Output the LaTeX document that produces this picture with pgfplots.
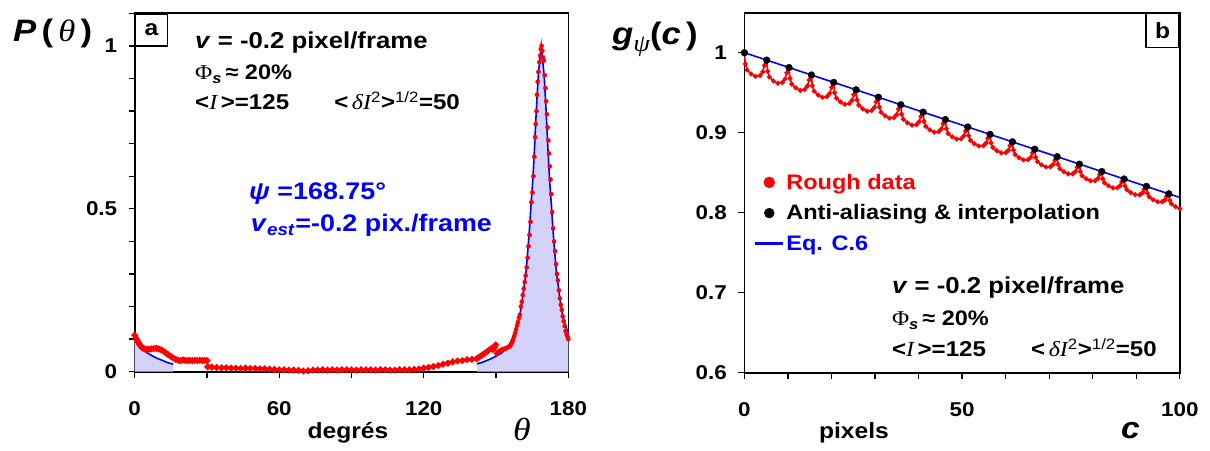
\documentclass[border=0pt]{standalone}
\usepackage{fontspec}
\setmainfont{Liberation Sans}[FakeStretch=1.12]
\newfontfamily\serif{Liberation Serif}[FakeStretch=1.12]
\usepackage{pgfplots}
\pgfplotsset{compat=1.18}
\definecolor{lav}{RGB}{210,210,250}
\newcommand{\fs}[1]{\fontsize{#1}{#1}\selectfont}
\pgfplotsset{
  myaxis/.style={
    scale only axis,
    axis line style={line width=1.6pt},
    every tick/.style={line width=1.3pt, black},
    major tick length=6pt, minor tick length=6pt,
    tick align=outside, tick pos=left,
    tick label style={font=\bfseries\fs{20}},
    /pgf/number format/assume math mode=true,
    xticklabel style={yshift=-20pt},
    yticklabel style={xshift=-8pt},
    clip=false,
  },
  mylegmark/.style={legend image code/.code={\draw[mark repeat=1,##1] plot coordinates {(14pt,0pt)};}},
  myleglin/.style={legend image code/.code={\draw[##1, draw=blue, line width=2.2pt] (0pt,0pt) -- (28pt,0pt);}},
}
\tikzset{lab/.style={inner sep=0pt}}
\begin{document}
\begin{tikzpicture}
\path[use as bounding box] (0pt,0pt) rectangle (1210pt,450pt);
% ---------------- panel a
\begin{axis}[myaxis, at={(134.7pt,78.3pt)}, anchor=south west,
  width=433.6pt, height=358.4pt,
  xmin=0, xmax=180, ymin=0, ymax=1.1,
  xtick={0,60,120,180}, xticklabels={0,60,120,180}, minor xtick={30,90,150},
  ytick={0,0.5,1}, yticklabels={0,0.5,1},
  minor ytick={0.1,0.2,0.3,0.4,0.6,0.7,0.8,0.9,1.1}]
% fitted curve (blue) with fill
\addplot[draw=none, fill=lav] coordinates {
(0,0.118) (1,0.097) (2,0.083) (3,0.073) (4,0.065) (5,0.059) (6,0.054) (7,0.050) (8,0.046) (9,0.042) (10,0.039) (11,0.036) (12,0.033) (13,0.030) (14,0.027) (15,0.025) (16,0.023)} \closedcycle;
\addplot[draw=none, fill=lav] coordinates {
(142,0.024) (143,0.026) (144,0.028) (145,0.031) (146,0.034) (147,0.037) (148,0.040) (149,0.044) (150,0.048) (151,0.052) (152,0.056) (153,0.062) (154,0.069) (155,0.078) (156,0.090) (157,0.107) (158,0.128) (158.5,0.138) (159,0.150) (159.5,0.163) (160,0.18) (160.5,0.20) (161,0.225) (161.5,0.255) (162,0.28) (162.5,0.31) (163,0.355) (163.5,0.40) (164,0.45) (164.5,0.51) (165,0.56) (165.5,0.62) (166,0.69) (166.5,0.77) (167,0.84) (167.5,0.905) (168,0.945) (168.75,1.0) (169.5,0.945) (170,0.905) (170.5,0.84) (171,0.77) (171.5,0.69) (172,0.62) (172.5,0.56) (173,0.51) (173.5,0.45) (174,0.40) (174.5,0.355) (175,0.31) (175.5,0.28) (176,0.255) (176.5,0.225) (177,0.20) (177.5,0.18) (178,0.163) (178.5,0.150) (179,0.138) (179.5,0.128) (180,0.118)} \closedcycle;
\addplot[blue, line width=1.6pt] coordinates {
(0,0.118) (1,0.097) (2,0.083) (3,0.073) (4,0.065) (5,0.059) (6,0.054) (7,0.050) (8,0.046) (9,0.042) (10,0.039) (11,0.036) (12,0.033) (13,0.030) (14,0.027) (15,0.025) (16,0.023)};
\addplot[blue, line width=1.6pt] coordinates {
(142,0.024) (143,0.026) (144,0.028) (145,0.031) (146,0.034) (147,0.037) (148,0.040) (149,0.044) (150,0.048) (151,0.052) (152,0.056) (153,0.062) (154,0.069) (155,0.078) (156,0.090) (157,0.107) (158,0.128) (158.5,0.138) (159,0.150) (159.5,0.163) (160,0.18) (160.5,0.20) (161,0.225) (161.5,0.255) (162,0.28) (162.5,0.31) (163,0.355) (163.5,0.40) (164,0.45) (164.5,0.51) (165,0.56) (165.5,0.62) (166,0.69) (166.5,0.77) (167,0.84) (167.5,0.905) (168,0.945) (168.75,1.0) (169.5,0.945) (170,0.905) (170.5,0.84) (171,0.77) (171.5,0.69) (172,0.62) (172.5,0.56) (173,0.51) (173.5,0.45) (174,0.40) (174.5,0.355) (175,0.31) (175.5,0.28) (176,0.255) (176.5,0.225) (177,0.20) (177.5,0.18) (178,0.163) (178.5,0.150) (179,0.138) (179.5,0.128) (180,0.118)};
% measured (red)
\addplot[red, line width=2.8pt, mark=*, mark size=1.7pt] coordinates {
(0,0.112) (0.5,0.103) (1,0.097) (1.5,0.090) (2,0.084) (2.5,0.079) (3,0.075) (3.5,0.072) (4,0.070) (5,0.069) (6,0.069) (7,0.070) (8,0.071) (9,0.072) (10,0.070) (11,0.067) (12,0.063) (13,0.057) (14,0.052) (15,0.047) (16,0.042) (17,0.038) (18,0.035) (19,0.034) (20,0.036) (21,0.035) (22,0.034) (23,0.035) (24,0.034) (25,0.035) (26,0.034) (27,0.035) (28,0.034) (29,0.035) (30,0.034)};
\addplot[red, line width=2.8pt, mark=*, mark size=1.7pt] coordinates {
(30.3,0.015) (32,0.014) (34,0.013) (36,0.012) (38,0.012) (40,0.011) (42,0.011) (44,0.010) (46,0.011) (48,0.010) (50,0.010) (52,0.009) (54,0.009) (56,0.008) (58,0.007) (60,0.006) (62,0.006) (64,0.005) (66,0.005) (68,0.004) (70,0.002) (72,0.003) (74,0.005) (76,0.005) (78,0.006) (80,0.005) (82,0.006) (84,0.005) (86,0.006) (88,0.006) (90,0.006) (92,0.005) (94,0.006) (96,0.006) (98,0.006) (100,0.005) (102,0.006) (104,0.006) (106,0.005) (108,0.005) (110,0.006) (112,0.006) (114,0.006) (116,0.007) (118,0.008) (120,0.011) (122,0.013) (124,0.016) (126,0.019) (128,0.023) (130,0.026) (132,0.030) (134,0.033) (136,0.034) (138,0.037) (140,0.038) (142,0.040) (143,0.045) (144,0.050) (145,0.055) (146,0.060) (147,0.066) (148,0.071) (148.7,0.068) (149.3,0.075) (149.8,0.082)};
\addplot[red, only marks, mark=*, mark size=2.1pt] coordinates {
(150.2,0.056) (150.7,0.060) (151.2,0.063) (151.7,0.065) (152.2,0.067) (152.7,0.069) (153.2,0.070) (153.7,0.071) (154.2,0.072) (154.7,0.074) (155.2,0.076) (155.7,0.078) (156.2,0.083) (156.7,0.090) (157.1,0.098) (157.5,0.108) (157.9,0.118) (158.3,0.130) (158.7,0.142) (159.1,0.152) (159.5,0.165) (159.9,0.175) (160.3,0.20) (160.7,0.215) (161.1,0.235) (161.5,0.255) (161.9,0.275) (162.3,0.295) (162.7,0.32) (163.1,0.35) (163.5,0.385) (163.9,0.42) (164.3,0.46) (164.7,0.52) (165.1,0.55) (165.5,0.60) (165.9,0.66) (166.2,0.72) (166.5,0.76) (166.8,0.80) (167.0,0.85) (167.3,0.89) (167.6,0.92) (168.0,0.95) (168.3,0.97) (168.6,0.99) (168.9,1.0) (169.2,0.985) (169.5,0.965) (169.8,0.955) (170.2,0.91) (170.5,0.87) (170.8,0.83) (171.1,0.79) (171.4,0.75) (171.7,0.71) (172.0,0.67) (172.3,0.63) (172.6,0.59) (172.9,0.545) (173.3,0.49) (173.7,0.44) (174.1,0.40) (174.5,0.37) (174.9,0.33) (175.3,0.30) (175.7,0.28) (176.1,0.25) (176.5,0.225) (176.9,0.205) (177.3,0.19) (177.7,0.17) (178.1,0.155) (178.5,0.14) (178.9,0.125) (179.3,0.115) (179.7,0.107) (180,0.10)};
\node[draw, line width=1.4pt, anchor=north west, minimum width=32pt, minimum height=32pt, inner sep=0pt, fill=white, font=\bfseries\fs{22}] at (rel axis cs:0,1) {a};
\end{axis}
% ---------------- panel b
\begin{axis}[myaxis, at={(744.4pt,77.3pt)}, anchor=south west,
  width=435.4pt, height=360pt,
  xmin=0, xmax=100, ymin=0.6, ymax=1.05,
  xtick={0,50,100}, xticklabels={0,50,100}, minor xtick={10,20,30,40,60,70,80,90},
  ytick={0.6,0.7,0.8,0.9,1}, yticklabels={0.6,0.7,0.8,0.9,1},
  legend style={at={(axis description cs:0.022,0.558)}, anchor=north west, draw=none, fill=none,
    font=\bfseries\fs{21}, row sep=10pt, inner sep=0pt, nodes={inner sep=2pt}},
  legend cell align=left]
\addlegendimage{red, only marks, mark=*, mark size=5.5pt, mylegmark}
\addlegendentry{\textcolor{red}{Rough data}}
\addlegendimage{black, only marks, mark=*, mark size=5pt, mylegmark}
\addlegendentry{Anti-aliasing \& interpolation}
\addlegendimage{blue, line width=2.2pt, myleglin}
\addlegendentry{\textcolor{blue}{Eq. C.6}}
\addplot[blue, line width=1.6pt, forget plot] coordinates {
(0,1) (10,0.9819) (20,0.9638) (30,0.9457) (40,0.9276) (50,0.9095) (60,0.8914) (70,0.8733) (80,0.8552) (90,0.8371) (100,0.819)};
\addplot[red, line width=1.6pt, mark=*, mark size=1.6pt, forget plot] coordinates {
(0,1.0000) (0.205,0.9859) (0.616,0.9784) (1.539,0.9735) (2.565,0.9704) (3.591,0.9715) (4.207,0.9761) (4.617,0.9841)
(5.13,0.9907) (5.335,0.9769) (5.746,0.9696) (6.669,0.9647) (7.695,0.9617) (8.721,0.9627) (9.337,0.9672) (9.747,0.9750)
(10.26,0.9814) (10.465,0.9679) (10.876,0.9608) (11.799,0.9560) (12.825,0.9530) (13.851,0.9540) (14.467,0.9583) (14.877,0.9659)
(15.39,0.9721) (15.595,0.9589) (16.006,0.9519) (16.929,0.9472) (17.955,0.9442) (18.981,0.9451) (19.597,0.9493) (20.007,0.9568)
(20.52,0.9629) (20.725,0.9500) (21.136,0.9432) (22.059,0.9385) (23.085,0.9356) (24.111,0.9364) (24.727,0.9405) (25.137,0.9477)
(25.65,0.9536) (25.855,0.9411) (26.266,0.9344) (27.189,0.9298) (28.215,0.9269) (29.241,0.9277) (29.857,0.9316) (30.267,0.9386)
(30.78,0.9443) (30.985,0.9321) (31.396,0.9256) (32.319,0.9211) (33.345,0.9182) (34.371,0.9189) (34.987,0.9227) (35.397,0.9295)
(35.91,0.9350) (36.115,0.9231) (36.526,0.9168) (37.449,0.9124) (38.475,0.9095) (39.501,0.9101) (40.117,0.9138) (40.527,0.9204)
(41.04,0.9257) (41.245,0.9141) (41.656,0.9079) (42.579,0.9035) (43.605,0.9007) (44.631,0.9013) (45.247,0.9048) (45.657,0.9112)
(46.17,0.9164) (46.375,0.9051) (46.786,0.8991) (47.709,0.8948) (48.735,0.8920) (49.761,0.8925) (50.377,0.8959) (50.787,0.9021)
(51.30,0.9072) (51.505,0.8963) (51.916,0.8904) (52.839,0.8862) (53.865,0.8834) (54.891,0.8838) (55.507,0.8871) (55.917,0.8931)
(56.43,0.8979) (56.635,0.8873) (57.046,0.8815) (57.969,0.8774) (58.995,0.8747) (60.021,0.8750) (60.637,0.8782) (61.047,0.8840)
(61.56,0.8886) (61.765,0.8783) (62.176,0.8727) (63.099,0.8687) (64.125,0.8660) (65.151,0.8663) (65.767,0.8693) (66.177,0.8748)
(66.69,0.8793) (66.895,0.8693) (67.306,0.8638) (68.229,0.8599) (69.255,0.8572) (70.281,0.8574) (70.897,0.8603) (71.307,0.8657)
(71.82,0.8700) (72.025,0.8603) (72.436,0.8550) (73.359,0.8512) (74.385,0.8485) (75.411,0.8486) (76.027,0.8514) (76.437,0.8566)
(76.95,0.8607) (77.155,0.8514) (77.566,0.8462) (78.489,0.8424) (79.515,0.8398) (80.541,0.8399) (81.157,0.8425) (81.567,0.8475)
(82.08,0.8514) (82.285,0.8424) (82.696,0.8374) (83.619,0.8337) (84.645,0.8311) (85.671,0.8311) (86.287,0.8336) (86.697,0.8383)
(87.21,0.8422) (87.415,0.8335) (87.826,0.8287) (88.749,0.8251) (89.775,0.8225) (90.801,0.8224) (91.417,0.8248) (91.827,0.8293)
(92.34,0.8329) (92.545,0.8245) (92.956,0.8198) (93.879,0.8162) (94.905,0.8137) (95.931,0.8136) (96.547,0.8158) (96.957,0.8202)
(97.47,0.8236) (97.675,0.8155) (98.086,0.8110) (99.009,0.8075) (100,0.8050)};
\addplot[black, only marks, mark=*, mark size=3.4pt, forget plot] coordinates {
(0,1.000) (5.13,0.9907) (10.26,0.9814) (15.39,0.9721) (20.52,0.9629) (25.65,0.9536) (30.78,0.9443) (35.91,0.9350) (41.04,0.9257) (46.17,0.9164) (51.30,0.9071) (56.43,0.8979) (61.56,0.8886) (66.69,0.8793) (71.82,0.8700) (76.95,0.8607) (82.08,0.8514) (87.21,0.8421) (92.34,0.8329) (97.47,0.8236)};
\node[draw, line width=1.4pt, anchor=north east, minimum width=33pt, minimum height=34pt, inner sep=0pt, fill=white, font=\bfseries\fs{22}] at (rel axis cs:1,1) {b};
\end{axis}
% ---------------- texts, panel a
\node[lab, anchor=base west, font=\bfseries\fs{31}] at (13pt,408pt) {\textit{P}\,(\,{\serif\mdseries\itshape θ}\,)};
\node[lab, anchor=base west, font=\bfseries\fs{23}] at (195pt,401.7pt) {\textit{v} = -0.2 pixel/frame};
\node[lab, anchor=base west, font=\bfseries\fs{21}] at (195pt,370pt) {{\serif\mdseries Φ}\textsubscript{\textit{s}}\,≈ 20\%};
\node[lab, anchor=base west, font=\bfseries\fs{21.5}] at (195pt,340pt) {<{\serif\mdseries\itshape I}\,>=125\hspace{2.1em}<\,{\serif\mdseries\itshape δI}\textsuperscript{\mdseries 2}>\textsuperscript{\mdseries 1/2}=50};
\node[lab, anchor=base west, font=\bfseries\fs{24}, text=blue] at (249pt,250pt) {\textit{ψ} =168.75°};
\node[lab, anchor=base west, font=\bfseries\fs{24}, text=blue] at (250.7pt,218.3pt) {\textit{v}\textsubscript{\textit{est}}=-0.2 pix./frame};
\node[lab, anchor=base, font=\bfseries\fs{22}] at (348pt,12pt) {degrés};
\node[lab, anchor=base west, font=\serif\itshape\fs{32}] at (513pt,10pt) {θ};
% ---------------- texts, panel b
\node[lab, anchor=base west, font=\bfseries\fs{31}] at (612pt,405pt) {\textit{g}\raisebox{-7pt}{\fs{24}\serif\mdseries\itshape ψ}(\textit{c}\,)};
\node[lab, anchor=base west, font=\bfseries\fs{23}] at (891.8pt,156.7pt) {\textit{v} = -0.2 pixel/frame};
\node[lab, anchor=base west, font=\bfseries\fs{21}] at (891.8pt,124pt) {{\serif\mdseries Φ}\textsubscript{\textit{s}}\,≈ 20\%};
\node[lab, anchor=base west, font=\bfseries\fs{21.5}] at (891.8pt,93.3pt) {<{\serif\mdseries\itshape I}\,>=125\hspace{2.1em}<\,{\serif\mdseries\itshape δI}\textsuperscript{\mdseries 2}>\textsuperscript{\mdseries 1/2}=50};
\node[lab, anchor=base, font=\bfseries\fs{22}] at (854pt,12pt) {pixels};
\node[lab, anchor=base west, font=\bfseries\itshape\fs{30}] at (1121pt,12pt) {c};
\end{tikzpicture}
\end{document}
